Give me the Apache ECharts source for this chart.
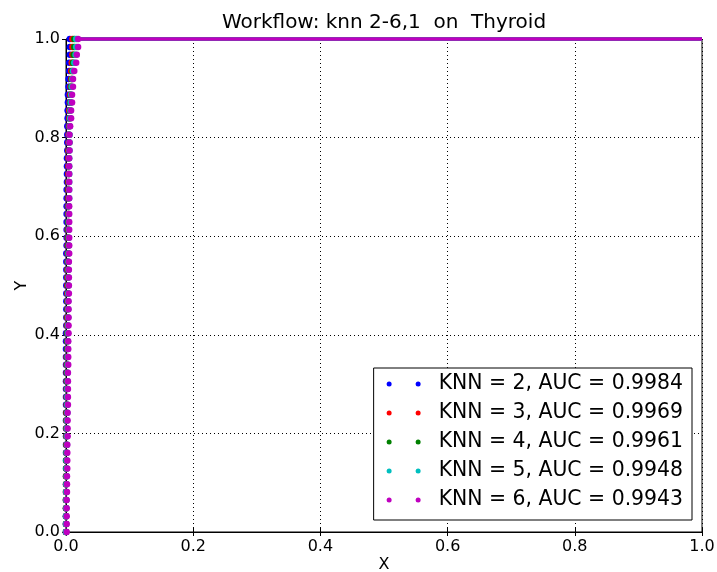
<!DOCTYPE html>
<html>
<head>
<meta charset="utf-8">
<script src="https://cdn.jsdelivr.net/npm/echarts@6/dist/echarts.min.js"></script>
<style>html,body{margin:0;padding:0;background:#fff}#c{width:717px;height:572px}</style>
</head>
<body>
<div id="c"></div>
<script>
// True positive rate (shared by all curves); last value is the top of the curve
var tpr = [0.000,0.016,0.032,0.048,0.065,0.081,0.097,0.113,0.129,0.145,
  0.161,0.177,0.194,0.210,0.226,0.242,0.258,0.274,0.290,0.306,
  0.323,0.339,0.355,0.371,0.387,0.403,0.419,0.435,0.452,0.468,
  0.484,0.500,0.516,0.532,0.548,0.565,0.581,0.597,0.613,0.629,
  0.645,0.661,0.677,0.694,0.710,0.726,0.742,0.758,0.774,0.790,
  0.806,0.823,0.839,0.855,0.871,0.887,0.903,0.919,0.935,0.952,
  0.968,0.984,1.000];
// False positive rates per KNN setting
var fprKnn2 = [0,0,0,0,0,0,0,0,0,0,
  0,0,0,0,0,0,0,0,0,0,
  0,0,0,0,0,0,0.0005,0.0005,0.0005,0.0005,
  0.0005,0.0005,0.0005,0.0005,0.0005,0.0005,0.001,0.001,0.001,0.001,
  0.001,0.001,0.001,0.001,0.0015,0.0015,0.0015,0.0015,0.002,0.002,
  0.002,0.002,0.0025,0.0025,0.003,0.003,0.004,0.004,0.005,0.005,
  0.006,0.006,0.006];
var fprKnn3 = [0,0,0,0,0,0,0,0,0.0005,0.0005,
  0.0005,0.0005,0.0005,0.0005,0.0005,0.0005,0.001,0.001,0.001,0.001,
  0.001,0.001,0.001,0.0015,0.0015,0.0015,0.0015,0.0015,0.002,0.002,
  0.002,0.002,0.002,0.002,0.0025,0.0025,0.0025,0.0025,0.0025,0.003,
  0.003,0.003,0.003,0.003,0.003,0.0035,0.0035,0.0035,0.0035,0.004,
  0.004,0.0045,0.005,0.005,0.006,0.006,0.007,0.008,0.008,0.009,
  0.010,0.010,0.010];
var fprKnn4 = [0,0,0,0,0,0.0005,0.0005,0.0005,0.0005,0.0005,
  0.001,0.001,0.001,0.001,0.001,0.001,0.0015,0.0015,0.0015,0.0015,
  0.0015,0.002,0.002,0.002,0.002,0.002,0.0025,0.0025,0.0025,0.0025,
  0.003,0.003,0.003,0.003,0.003,0.0035,0.0035,0.0035,0.0035,0.0035,
  0.004,0.004,0.004,0.004,0.004,0.0045,0.0045,0.0045,0.0045,0.005,
  0.005,0.0055,0.006,0.0065,0.007,0.0075,0.008,0.009,0.010,0.011,
  0.012,0.013,0.013];
var fprKnn5 = [0,0,0,0.0005,0.0005,0.0005,0.0005,0.001,0.001,0.001,
  0.001,0.0015,0.0015,0.0015,0.0015,0.002,0.002,0.002,0.002,0.0025,
  0.0025,0.0025,0.0025,0.003,0.003,0.003,0.003,0.0035,0.0035,0.0035,
  0.0035,0.004,0.004,0.004,0.004,0.004,0.0045,0.0045,0.0045,0.0045,
  0.0045,0.0045,0.005,0.005,0.005,0.005,0.005,0.005,0.0055,0.0055,
  0.0055,0.006,0.0065,0.007,0.0075,0.008,0.009,0.010,0.011,0.013,
  0.015,0.016,0.016];
var fprKnn6 = [0.001,0.001,0.001,0.001,0.001,0.0015,0.0015,0.0015,0.002,0.002,
  0.002,0.002,0.0025,0.0025,0.0025,0.0025,0.003,0.003,0.003,0.003,
  0.003,0.0035,0.0035,0.0035,0.0035,0.004,0.004,0.004,0.004,0.004,
  0.0045,0.0045,0.0045,0.0045,0.0045,0.005,0.005,0.005,0.005,0.005,
  0.005,0.005,0.005,0.005,0.005,0.005,0.005,0.005,0.0055,0.0055,
  0.0055,0.0065,0.008,0.008,0.0095,0.0095,0.011,0.011,0.013,0.016,
  0.017,0.019,0.019];
var seriesNames = ['KNN = 2, AUC = 0.9984','KNN = 3, AUC = 0.9969','KNN = 4, AUC = 0.9961','KNN = 5, AUC = 0.9948','KNN = 6, AUC = 0.9943'];
var seriesFpr = [fprKnn2, fprKnn3, fprKnn4, fprKnn5, fprKnn6];
var seriesColors = ['#0000ff','#ff0000','#008000','#00bfbf','#bf00bf'];

var FONT = 'DejaVu Sans';
var series = [];
seriesFpr.forEach(function (fpr, i) {
  var pts = fpr.map(function (x, j) { return [x, tpr[j]]; });
  var last = pts[pts.length - 1];
  series.push({
    name: seriesNames[i], type: 'scatter', data: pts,
    symbol: 'circle', symbolSize: 6.5, itemStyle: { color: seriesColors[i], opacity: 1 },
    z: 3 + i, clip: false, animation: false
  });
  series.push({
    name: seriesNames[i] + ' top', type: 'line', data: [last, [1, 1]],
    showSymbol: false, lineStyle: { color: seriesColors[i], width: 3.5 },
    z: 3 + i, clip: false, animation: false, silent: true
  });
});

var twoDots = 'path://M0,2.5a2.5,2.5 0 1,0 5,0a2.5,2.5 0 1,0 -5,0M29,2.5a2.5,2.5 0 1,0 5,0a2.5,2.5 0 1,0 -5,0';

var chart = echarts.init(document.getElementById('c'));
chart.setOption({
  backgroundColor: '#fff',
  animation: false,
  title: {
    text: 'Workflow: knn 2-6,1  on  Thyroid',
    left: 379, top: 8, textAlign: 'center',
    textStyle: { fontFamily: FONT, fontSize: 20, fontWeight: 'normal', color: '#000' }
  },
  grid: { left: 66, right: 15, top: 39, bottom: 40, show: true, borderColor: '#000', borderWidth: 1, backgroundColor: 'transparent', containLabel: false, outerBoundsMode: 'none' },
  legend: {
    orient: 'vertical', right: 25, bottom: 52,
    data: seriesNames.map(function (n) { return { name: n, icon: twoDots }; }),
    itemWidth: 34, itemHeight: 5, itemGap: 7,
    backgroundColor: '#fff', borderColor: '#000', borderWidth: 1, borderRadius: 0,
    padding: [5, 9, 9, 13],
    textStyle: { fontFamily: FONT, fontSize: 20.4, color: '#000', lineHeight: 22, padding: [0, 0, 0, 13] },
    selectedMode: false
  },
  xAxis: [{
    type: 'value', min: 0, max: 1, interval: 0.2,
    name: 'X', nameLocation: 'middle', nameGap: 25, nameMoveOverlap: false,
    nameTextStyle: { fontFamily: FONT, fontSize: 16, color: '#000' },
    axisLine: { show: true, lineStyle: { color: '#000', width: 1 } },
    axisTick: { show: true, inside: true, length: 4, lineStyle: { color: '#000' } },
    axisLabel: { fontFamily: FONT, fontSize: 16, color: '#000', margin: 7, formatter: function (v) { return v.toFixed(1); } },
    splitLine: { show: true, lineStyle: { color: '#000', type: [1, 3], width: 1 } }
  }, {
    type: 'value', min: 0, max: 1, interval: 0.2, position: 'top',
    axisLine: { show: false }, axisLabel: { show: false }, splitLine: { show: false },
    axisTick: { show: true, inside: true, length: 4, lineStyle: { color: '#000' } }
  }],
  yAxis: [{
    type: 'value', min: 0, max: 1, interval: 0.2,
    name: 'Y', nameLocation: 'middle', nameGap: 36, nameRotate: 90, nameMoveOverlap: false,
    nameTextStyle: { fontFamily: FONT, fontSize: 16, color: '#000' },
    axisLine: { show: true, lineStyle: { color: '#000', width: 1 } },
    axisTick: { show: true, inside: true, length: 4, lineStyle: { color: '#000' } },
    axisLabel: { fontFamily: FONT, fontSize: 16, color: '#000', margin: 6, formatter: function (v) { return v.toFixed(1); } },
    splitLine: { show: true, lineStyle: { color: '#000', type: [1, 3], width: 1 } }
  }, {
    type: 'value', min: 0, max: 1, interval: 0.2, position: 'right',
    axisLine: { show: false }, axisLabel: { show: false }, splitLine: { show: false },
    axisTick: { show: true, inside: true, length: 4, lineStyle: { color: '#000' } }
  }],
  series: series
});
</script>
</body>
</html>
